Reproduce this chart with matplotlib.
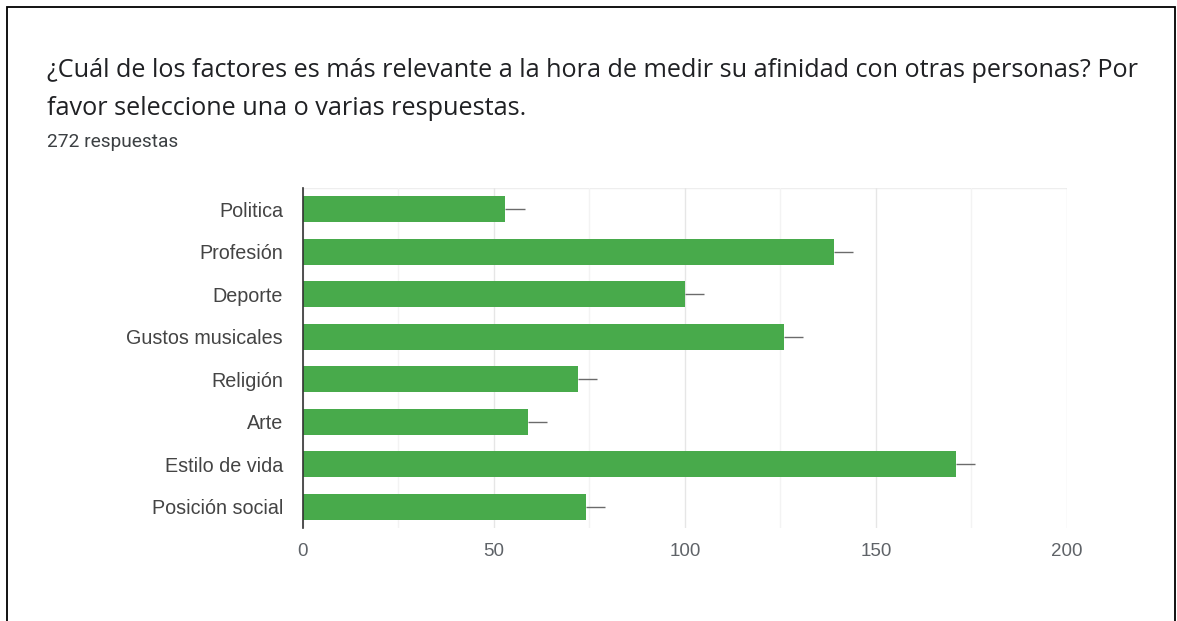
import numpy as np
import matplotlib
matplotlib.use("Agg")
import matplotlib.pyplot as plt
from matplotlib.ticker import MultipleLocator

# survey answers (multiple choice, 272 respondents)
categories = ["Politica", "Profesión", "Deporte", "Gustos musicales",
              "Religión", "Arte", "Estilo de vida", "Posición social"]
counts = [53, 139, 100, 126, 72, 59, 171, 74]
whisker = [5, 5, 5, 5, 5, 5, 5, 5]

title_lines = ["¿Cuál de los factores es más relevante a la hora de medir su afinidad con otras personas? Por",
               "favor seleccione una o varias respuestas."]
subtitle = "272 respuestas"
xticks = [0, 50, 100, 150, 200]

BAR_GREEN = "#48aa4b"

fig = plt.figure(figsize=(11.77, 6.21), dpi=100)
fig.patch.set_facecolor("white")

# outer frame of the card
frame = plt.Rectangle((0.006, -0.02), 0.992, 1.009, transform=fig.transFigure,
                      fill=False, edgecolor="black", linewidth=1.3)
fig.add_artist(frame)

fig.text(0.040, 0.887, title_lines[0], fontsize=18.2, family="Open Sans",
         color="#202124", va="center", ha="left")
fig.text(0.040, 0.826, title_lines[1], fontsize=18.2, family="Open Sans",
         color="#202124", va="center", ha="left")
fig.text(0.040, 0.771, subtitle, fontsize=13.8, family="Roboto",
         color="#3c4043", va="center", ha="left")

ax = fig.add_axes([0.2574, 0.1498, 0.6491, 0.5475])
y = np.arange(len(categories))

ax.barh(y, counts, height=0.62, color=BAR_GREEN, zorder=3)
ax.errorbar(counts, y, xerr=[np.zeros(len(whisker)), whisker], fmt="none",
            ecolor="#6b6b6b", elinewidth=1.0, capsize=0, zorder=2)

ax.set_xlim(0, 200)
ax.set_ylim(len(categories) - 0.5, -0.5)
ax.set_yticks(y)
ax.set_yticklabels(categories, family="Liberation Sans", fontsize=14.2, color="#444444")
ax.set_xticks(xticks)
ax.set_xticklabels([str(t) for t in xticks], family="Liberation Sans",
                   fontsize=13.5, color="#5f6368")
ax.xaxis.set_minor_locator(MultipleLocator(25))

ax.grid(axis="x", which="major", color="#e6e6e6", linewidth=1.0, zorder=0)
ax.grid(axis="x", which="minor", color="#f3f3f3", linewidth=1.0, zorder=0)
ax.tick_params(axis="both", which="both", length=0)
ax.tick_params(axis="y", pad=14.4)
ax.tick_params(axis="x", pad=11)

for side in ["top", "right", "bottom"]:
    ax.spines[side].set_visible(False)
ax.spines["left"].set_color("#333333")
ax.spines["left"].set_linewidth(1.2)
ax.spines["left"].set_zorder(4)
# faint top edge of the plot area
ax.axhline(-0.5, color="#eeeeee", linewidth=1.0, zorder=0)

fig.savefig("out.png", dpi=100, facecolor="white")
